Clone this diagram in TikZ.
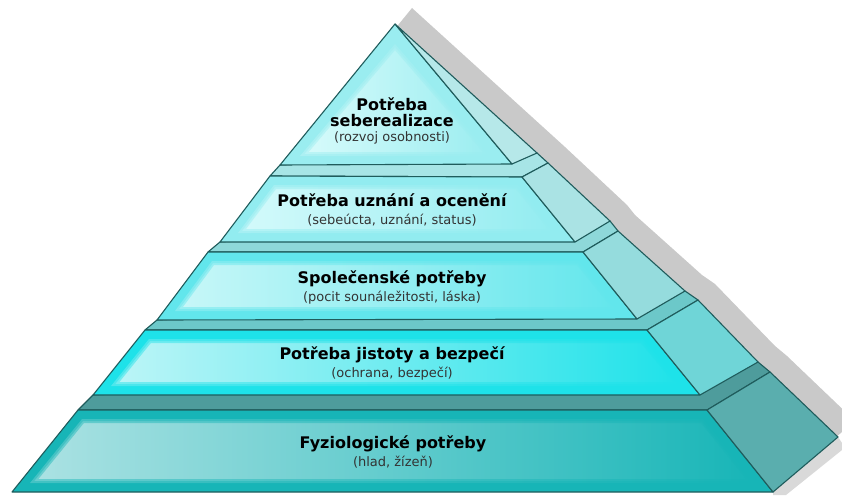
\documentclass[tikz,border=0pt]{standalone}
\usepackage{fontspec}
\setmainfont{DejaVu Sans}
\usepackage{tikz}
\usetikzlibrary{positioning}

\definecolor{edgeteal}{HTML}{1F5C5C}
\definecolor{shadowgray}{HTML}{C9C9C9}
\definecolor{subgray}{HTML}{333333}
% level colours, A = top
\definecolor{frontA}{HTML}{9AEDF0}
\definecolor{glowA}{HTML}{D8FBFB}
\definecolor{sideA}{HTML}{B6E8E9}
\definecolor{frontB}{HTML}{92ECF0}
\definecolor{glowB}{HTML}{D4FAFB}
\definecolor{sideB}{HTML}{AAE3E4}
\definecolor{topB}{HTML}{A7E5E6}
\definecolor{frontC}{HTML}{62E6EC}
\definecolor{glowC}{HTML}{C8F7F8}
\definecolor{sideC}{HTML}{95DCDD}
\definecolor{topC}{HTML}{8ED8D9}
\definecolor{frontD}{HTML}{1EE2E9}
\definecolor{glowD}{HTML}{BDF5F7}
\definecolor{sideD}{HTML}{6FD5D7}
\definecolor{topD}{HTML}{6CC8C9}
\definecolor{frontE}{HTML}{17B5B7}
\definecolor{glowE}{HTML}{ACE2E3}
\definecolor{sideE}{HTML}{5AAEAE}
\definecolor{topE}{HTML}{4E9C9C}

\begin{document}
\begin{tikzpicture}[x=1pt, y=-1pt,
    face/.style={draw=edgeteal, line width=1.1pt, line join=round},
    soft/.style={draw=#1, line width=8pt, draw opacity=0.45, line join=round},
    title/.style={font=\fontsize{16}{17}\selectfont\bfseries, text=black, anchor=base, inner sep=0pt},
    subtitle/.style={font=\fontsize{13}{14}\selectfont, text=subgray, anchor=base, inner sep=0pt}]
    \useasboundingbox (0,0) rectangle (842,495);

    % Shadow
    \fill[shadowgray, shift={(17,-16)}] (12,492) -- (78,410) -- (93,395) -- (145,330) -- (157,320)
        -- (208,252) -- (220,242) -- (270,176) -- (280,165) -- (395,24) -- (537,153) -- (548,163)
        -- (610,221) -- (618,231) -- (685,291) -- (698,300) -- (758,362) -- (770,372) -- (838,437)
        -- (773,492) -- cycle;
    \fill[shadowgray!70] (773,492) -- (838,437) -- (842,443) -- (842,450) -- (786,495) -- (773,495) -- cycle;

    % Fyziologicke potreby
    \filldraw[face, fill=topE] (78,410) -- (707,410) -- (770,372) -- (758,362) -- (93,395) -- cycle;
    \fill[frontE] (12,492) -- (78,410) -- (707,410) -- (773,492) -- cycle;
    \shade[left color=glowE, right color=frontE] (30,483) -- (82,419) -- (703,419) -- (755,483) -- cycle;
    \draw[soft=frontE] (30,483) -- (82,419) -- (703,419) -- (755,483) -- cycle;
    \draw[soft=frontE, line width=4pt] (30,483) -- (82,419) -- (703,419) -- (755,483) -- cycle;
    \draw[face] (12,492) -- (78,410) -- (707,410) -- (773,492) -- cycle;
    \filldraw[face, fill=sideE] (707,410) -- (770,372) -- (838,437) -- (773,492) -- cycle;

    % Potreba jistoty a bezpeci
    \filldraw[face, fill=topD] (145,330) -- (647,330) -- (698,300) -- (685,291) -- (157,320) -- cycle;
    \fill[frontD] (93,395) -- (145,330) -- (647,330) -- (700,395) -- cycle;
    \shade[left color=glowD, right color=frontD] (111,386) -- (149,339) -- (643,339) -- (682,386) -- cycle;
    \draw[soft=frontD] (111,386) -- (149,339) -- (643,339) -- (682,386) -- cycle;
    \draw[soft=frontD, line width=4pt] (111,386) -- (149,339) -- (643,339) -- (682,386) -- cycle;
    \draw[face] (93,395) -- (145,330) -- (647,330) -- (700,395) -- cycle;
    \filldraw[face, fill=sideD] (647,330) -- (698,300) -- (758,362) -- (700,395) -- cycle;

    % Spolecenske potreby
    \filldraw[face, fill=topC] (208,252) -- (583,252) -- (618,231) -- (610,221) -- (220,242) -- cycle;
    \fill[frontC] (157,320) -- (208,252) -- (583,252) -- (637,319) -- cycle;
    \shade[left color=glowC, right color=frontC] (175,311) -- (212,261) -- (579,261) -- (620,311) -- cycle;
    \draw[soft=frontC] (175,311) -- (212,261) -- (579,261) -- (620,311) -- cycle;
    \draw[soft=frontC, line width=4pt] (175,311) -- (212,261) -- (579,261) -- (620,311) -- cycle;
    \draw[face] (157,320) -- (208,252) -- (583,252) -- (637,319) -- cycle;
    \filldraw[face, fill=sideC] (583,252) -- (618,231) -- (685,291) -- (637,319) -- cycle;

    % Potreba uznani a oceneni
    \filldraw[face, fill=topB] (270,176) -- (522,177) -- (548,163) -- (537,153) -- (280,165) -- cycle;
    \fill[frontB] (220,242) -- (270,176) -- (522,177) -- (575,242) -- cycle;
    \shade[left color=glowB, right color=frontB] (238,233) -- (274,185) -- (518,185) -- (557,233) -- cycle;
    \draw[soft=frontB] (238,233) -- (274,185) -- (518,185) -- (557,233) -- cycle;
    \draw[soft=frontB, line width=4pt] (238,233) -- (274,185) -- (518,185) -- (557,233) -- cycle;
    \draw[face] (220,242) -- (270,176) -- (522,177) -- (575,242) -- cycle;
    \filldraw[face, fill=sideB] (522,177) -- (548,163) -- (610,221) -- (575,242) -- cycle;

    % Potreba seberealizace
    \fill[frontA] (280,165) -- (395,24) -- (512,164) -- cycle;
    \shade[left color=glowA, right color=frontA] (300,156) -- (395,44) -- (492,156) -- cycle;
    \draw[soft=frontA] (300,156) -- (395,44) -- (492,156) -- cycle;
    \draw[soft=frontA, line width=4pt] (300,156) -- (395,44) -- (492,156) -- cycle;
    \draw[face] (280,165) -- (395,24) -- (512,164) -- cycle;
    \filldraw[face, fill=sideA] (395,24) -- (537,153) -- (512,164) -- cycle;

    % Texts
    \node[title] (self-a) at (392,110) {Potřeba};
    \node[title] (self-b) at (392,126.5) {seberealizace};
    \node[subtitle] (self-sub) at (392,141.5) {(rozvoj osobnosti)};

    \node[title] (esteem) at (392,206) {Potřeba uznání a ocenění};
    \node[subtitle] (esteem-sub) at (392,224) {(sebeúcta, uznání, status)};

    \node[title] (social) at (392,283) {Společenské potřeby};
    \node[subtitle] (social-sub) at (392,301) {(pocit sounáležitosti, láska)};

    \node[title] (safety) at (392,359) {Potřeba jistoty a bezpečí};
    \node[subtitle] (safety-sub) at (392,377) {(ochrana, bezpečí)};

    \node[title] (body) at (393,448) {Fyziologické potřeby};
    \node[subtitle] (body-sub) at (393,466) {(hlad, žízeň)};
\end{tikzpicture}
\end{document}
